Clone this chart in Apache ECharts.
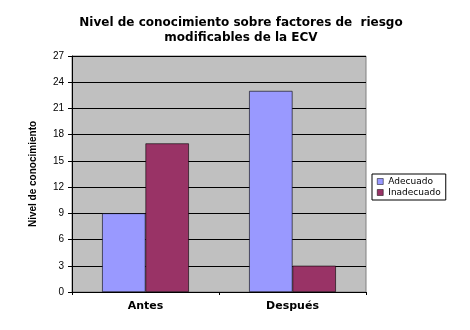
<!DOCTYPE html>
<html><head><meta charset="utf-8">
<script src="https://cdn.jsdelivr.net/npm/echarts@6/dist/echarts.min.js"></script>
<style>html,body{margin:0;padding:0;background:#fff}#c{width:470px;height:330px}</style>
</head><body><div id="c"></div>
<script>
const categories = ['Antes', 'Después'];
const seriesNames = ['Adecuado', 'Inadecuado'];
const adecuado = [9, 23];
const inadecuado = [17, 3];
const yTicks = [0, 3, 6, 9, 12, 15, 18, 21, 24, 27];

const chart = echarts.init(document.getElementById('c'));
chart.setOption({
  animation: false,
  backgroundColor: '#ffffff',
  title: {
    text: 'Nivel de conocimiento sobre factores de  riesgo\nmodificables de la ECV',
    left: 236, top: 10, textAlign: 'center',
    textStyle: { fontFamily: 'DejaVu Sans', fontSize: 12, fontWeight: 'bold', color: '#000', lineHeight: 15 }
  },
  legend: {
    orient: 'vertical', left: 372, top: 174,
    itemWidth: 6, itemHeight: 6, itemGap: 2,
    padding: [3, 5, 3, 5],
    borderColor: '#000', borderWidth: 1,
    textStyle: { fontFamily: 'DejaVu Sans', fontSize: 9, color: '#000' },
    data: seriesNames.map(n => ({ name: n, icon: 'rect', itemStyle: { borderColor: '#000', borderWidth: 0.5 } }))
  },
  grid: { left: 72, top: 56, width: 294, height: 236, backgroundColor: '#C0C0C0', show: true, borderColor: '#808080', borderWidth: 1 },
  xAxis: {
    type: 'category', data: categories,
    axisLine: { lineStyle: { color: '#000' } },
    axisTick: { show: true, lineStyle: { color: '#000' }, length: 3 },
    axisLabel: { fontFamily: 'DejaVu Sans', fontSize: 11, fontWeight: 'bold', color: '#000', margin: 9 }
  },
  yAxis: {
    type: 'value', min: 0, max: 27, interval: 3,
    name: 'Nivel de conocimiento', nameLocation: 'middle', nameGap: 34,
    nameTextStyle: { fontFamily: 'Liberation Sans Narrow, Liberation Sans, Arial', fontSize: 10, fontWeight: 'bold', color: '#000' },
    axisLine: { show: true, lineStyle: { color: '#000' } },
    axisTick: { show: true, length: 4, lineStyle: { color: '#000' } },
    splitLine: { lineStyle: { color: '#000', width: 1 } },
    axisLabel: { fontFamily: 'Liberation Sans, Arial', fontSize: 10, color: '#000', margin: 8, formatter: v => yTicks.includes(v) ? String(v) : '' }
  },
  series: [
    { name: seriesNames[0], type: 'bar', data: adecuado, barGap: '0%', barCategoryGap: '41%',
      itemStyle: { color: '#9999FF', borderColor: '#000', borderWidth: 0.6 } },
    { name: seriesNames[1], type: 'bar', data: inadecuado,
      itemStyle: { color: '#993366', borderColor: '#000', borderWidth: 0.6 } }
  ]
});
</script></body></html>
